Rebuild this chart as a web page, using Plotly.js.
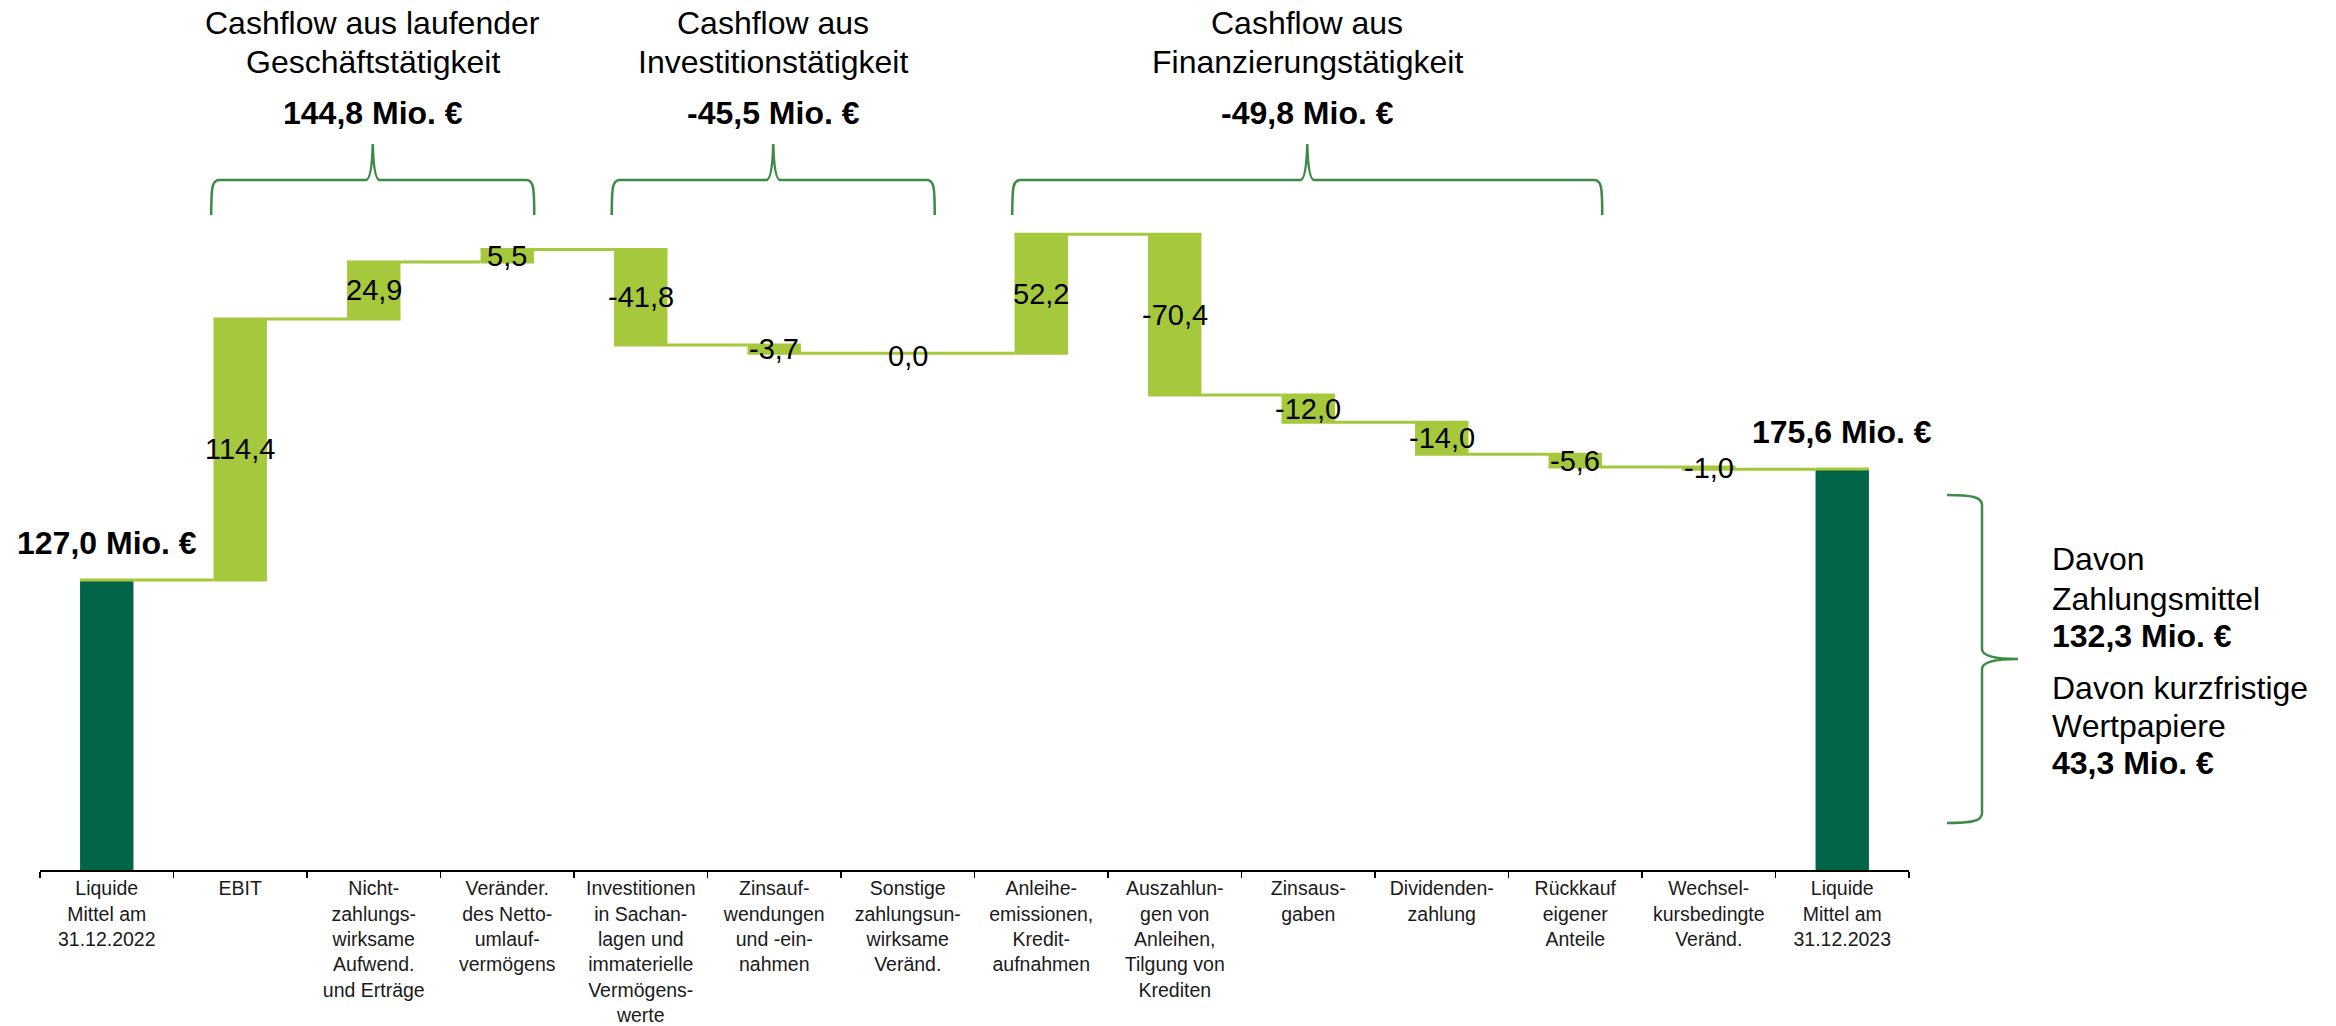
<!DOCTYPE html>
<html><head><meta charset="utf-8">
<script src="https://cdn.plot.ly/plotly-3.0.1.min.js"></script>
<style>html,body{margin:0;padding:0;background:#fff}#chart{width:2336px;height:1026px}</style>
</head><body><div id="chart"></div>
<script>
// ---- data ----
const categories = [
  "Liquide<br>Mittel am<br>31.12.2022",
  "EBIT",
  "Nicht-<br>zahlungs-<br>wirksame<br>Aufwend.<br>und Erträge",
  "Veränder.<br>des Netto-<br>umlauf-<br>vermögens",
  "Investitionen<br>in Sachan-<br>lagen und<br>immaterielle<br>Vermögens-<br>werte",
  "Zinsauf-<br>wendungen<br>und -ein-<br>nahmen",
  "Sonstige<br>zahlungsun-<br>wirksame<br>Veränd.",
  "Anleihe-<br>emissionen,<br>Kredit-<br>aufnahmen",
  "Auszahlun-<br>gen von<br>Anleihen,<br>Tilgung von<br>Krediten",
  "Zinsaus-<br>gaben",
  "Dividenden-<br>zahlung",
  "Rückkauf<br>eigener<br>Anteile",
  "Wechsel-<br>kursbedingte<br>Veränd.",
  "Liquide<br>Mittel am<br>31.12.2023"
];
const measures = ["absolute","relative","relative","relative","relative","relative","relative",
                  "relative","relative","relative","relative","relative","relative","absolute"];
const values = [127.0, 114.4, 24.9, 5.5, -41.8, -3.7, 0.0, 52.2, -70.4, -12.0, -14.0, -5.6, -1.0, 175.6];

const groupTitles = [
  ["Cashflow aus laufender", "Geschäftstätigkeit"],
  ["Cashflow aus", "Investitionstätigkeit"],
  ["Cashflow aus", "Finanzierungstätigkeit"]
];
const groupFirst = [1, 4, 7];
const groupLast  = [3, 6, 11];

const breakdownLabels = [["Davon", "Zahlungsmittel"], ["Davon kurzfristige", "Wertpapiere"]];
const breakdownValues = [132.3, 43.3];

// ---- helpers ----
const FONT = "Liberation Sans, Arial, sans-serif";
const LIGHT = "#a5c83c", DARK = "#026548", BRACE = "#3d8b47";
const W = 2336, H = 1026, ML = 40, MR = 427, MT = 0, MB = 156;
const PW = W - ML - MR, PH = H - MT - MB;
const PXPERUNIT = 2.283;
const px = x => (x - ML) / PW;
const py = y => (H - MB - y) / PH;
const P = (x, y) => px(x).toFixed(5) + "," + py(y).toFixed(5);
const fmt = v => (v < 0 ? "-" : "") + Math.abs(v).toFixed(1).replace(".", ",");
const catCenter = i => ML + PW / categories.length * (i + 0.5);

const annotations = [];
function txt(x, y, text, size, bold, xanchor) {
  annotations.push({
    xref: "paper", yref: "paper", x: px(x), y: py(y), text: bold ? "<b>" + text + "</b>" : text,
    showarrow: false, xanchor: xanchor || "center", yanchor: "middle",
    font: {family: FONT, size: size, color: "#000"}
  });
}

// bar value labels (centered on bars, from cumulative data)
let level = 0;
for (let i = 0; i < values.length; i++) {
  if (measures[i] === "absolute") {
    level = values[i];
    annotations.push({
      xref: "x", yref: "y", x: i, y: level, yshift: 37, text: "<b>" + fmt(values[i]) + " Mio. €</b>",
      showarrow: false, xanchor: "center", yanchor: "middle",
      font: {family: FONT, size: 32, color: "#000"}
    });
  } else {
    const start = level, end = level + values[i];
    level = end;
    annotations.push({
      xref: "x", yref: "y", x: i, y: (start + end) / 2, yshift: values[i] === 0 ? -3 : 0, text: fmt(values[i]),
      showarrow: false, xanchor: "center", yanchor: "middle",
      font: {family: FONT, size: 29, color: "#000"}
    });
  }
}

// group braces and titles
const shapes = [];
for (let g = 0; g < groupTitles.length; g++) {
  const x0 = catCenter(groupFirst[g]) - 29, x1 = catCenter(groupLast[g]) + 27;
  const xm = (x0 + x1) / 2;
  const yb = 215, yh = 180, yt = 144;
  const path = "M" + P(x0, yb) + " C" + P(x0, 186) + " " + P(x0 + 1, yh) + " " + P(x0 + 8, yh) +
    " L" + P(xm - 7, yh) + " Q" + P(xm - 1, yh) + " " + P(xm, yt) +
    " Q" + P(xm + 1, yh) + " " + P(xm + 7, yh) +
    " L" + P(x1 - 8, yh) + " C" + P(x1 - 1, yh) + " " + P(x1, 186) + " " + P(x1, yb);
  shapes.push({type: "path", xref: "paper", yref: "paper", path: path,
    line: {color: BRACE, width: 2.5}, fillcolor: "rgba(0,0,0,0)"});
  let sum = 0;
  for (let i = groupFirst[g]; i <= groupLast[g]; i++) sum += values[i];
  txt(xm, 23, groupTitles[g][0], 32, false);
  txt(xm, 62, groupTitles[g][1], 32, false);
  txt(xm, 113, fmt(Math.round(sum * 10) / 10) + " Mio. €", 32, true);
}

// right brace
{
  const xl = 1947, xv = 1982, xt = 2018, ytop = 495, ybot = 823, ym = 659;
  const path = "M" + P(xl, ytop) + " C" + P(xl + 25, ytop) + " " + P(xv, ytop + 2) + " " + P(xv, ytop + 10) +
    " L" + P(xv, ym - 10) + " Q" + P(xv, ym) + " " + P(xt, ym) +
    " Q" + P(xv, ym) + " " + P(xv, ym + 10) +
    " L" + P(xv, ybot - 10) + " C" + P(xv, ybot - 2) + " " + P(xl + 25, ybot) + " " + P(xl, ybot);
  shapes.push({type: "path", xref: "paper", yref: "paper", path: path,
    line: {color: BRACE, width: 2.5}, fillcolor: "rgba(0,0,0,0)"});
}
const bx = 2050;
txt(bx, 559, breakdownLabels[0][0], 32, false, "left");
txt(bx, 599, breakdownLabels[0][1], 32, false, "left");
txt(bx, 636, fmt(breakdownValues[0]) + " Mio. €", 32, true, "left");
txt(bx, 688, breakdownLabels[1][0], 32, false, "left");
txt(bx, 726, breakdownLabels[1][1], 32, false, "left");
txt(bx, 763, fmt(breakdownValues[1]) + " Mio. €", 32, true, "left");

const trace = {
  type: "waterfall",
  x: categories,
  y: values,
  measure: measures,
  textposition: "none",
  increasing: {marker: {color: LIGHT, line: {width: 0}}},
  decreasing: {marker: {color: LIGHT, line: {width: 0}}},
  totals: {marker: {color: DARK, line: {width: 0}}},
  connector: {mode: "spanning", line: {color: LIGHT, width: 3}},
  hoverinfo: "skip"
};

const layout = {
  width: W, height: H,
  margin: {l: ML, r: MR, t: MT, b: MB, pad: 0},
  paper_bgcolor: "#fff", plot_bgcolor: "#fff",
  showlegend: false,
  waterfallgap: 0.6,
  font: {family: FONT, color: "#000"},
  xaxis: {
    type: "category", range: [-0.5, categories.length - 0.5], autorange: false,
    showline: true, linecolor: "#000", linewidth: 2,
    ticks: "outside", tickson: "boundaries", ticklen: 6, tickwidth: 1.5, tickcolor: "#000",
    showgrid: false, zeroline: false, tickangle: 0,
    tickfont: {family: FONT, size: 19.5, color: "#1a1a1a"}
  },
  yaxis: {range: [0, PH / PXPERUNIT], autorange: false, visible: false, showgrid: false, zeroline: false},
  annotations: annotations,
  shapes: shapes
};

Plotly.newPlot("chart", [trace], layout, {displayModeBar: false, staticPlot: true});
</script>
</body></html>
